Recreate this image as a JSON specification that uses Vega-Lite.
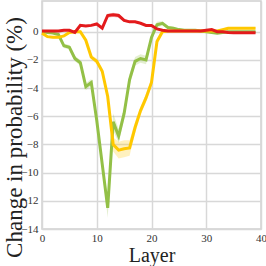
{
  "$schema": "https://vega.github.io/schema/vega-lite/v6.json",
  "width": 219,
  "height": 228,
  "autosize": "none",
  "padding": {"left": 42, "top": 1, "right": 5, "bottom": 37},
  "background": "white",
  "config": {
    "font": "Liberation Serif",
    "view": {"stroke": "#d0d0d0", "strokeWidth": 1.5},
    "axis": {
      "labelFont": "Liberation Serif",
      "titleFont": "Liberation Serif",
      "labelFontSize": 11,
      "labelColor": "#333",
      "titleColor": "#222",
      "titleFontWeight": "normal",
      "gridColor": "#d8d8d8",
      "gridWidth": 1.5,
      "domain": false,
      "ticks": false,
      "labelOverlap": false,
      "tickCount": 20
    }
  },
  "data": {
    "values": [
      {"layer":0,"s":"g","v":0,"lo":-0.05,"hi":0.05},
      {"layer":1,"s":"g","v":-0.05,"lo":-0.1,"hi":0},
      {"layer":2,"s":"g","v":-0.1,"lo":-0.18,"hi":-0.02},
      {"layer":3,"s":"g","v":-0.2,"lo":-0.3,"hi":-0.1},
      {"layer":4,"s":"g","v":-1.0,"lo":-1.15,"hi":-0.85},
      {"layer":5,"s":"g","v":-1.1,"lo":-1.25,"hi":-0.95},
      {"layer":6,"s":"g","v":-1.9,"lo":-2.1,"hi":-1.7},
      {"layer":7,"s":"g","v":-2.2,"lo":-2.4,"hi":-2.0},
      {"layer":8,"s":"g","v":-3.9,"lo":-4.15,"hi":-3.65},
      {"layer":9,"s":"g","v":-3.6,"lo":-3.85,"hi":-3.35},
      {"layer":10,"s":"g","v":-6.3,"lo":-6.6,"hi":-6.0},
      {"layer":11,"s":"g","v":-9.4,"lo":-9.8,"hi":-9.0},
      {"layer":12,"s":"g","v":-12.5,"lo":-13.2,"hi":-11.8},
      {"layer":13,"s":"g","v":-6.4,"lo":-7.0,"hi":-5.8},
      {"layer":14,"s":"g","v":-7.4,"lo":-7.9,"hi":-6.9},
      {"layer":15,"s":"g","v":-5.8,"lo":-6.2,"hi":-5.4},
      {"layer":16,"s":"g","v":-3.4,"lo":-3.8,"hi":-3.0},
      {"layer":17,"s":"g","v":-2.1,"lo":-2.4,"hi":-1.8},
      {"layer":18,"s":"g","v":-1.9,"lo":-2.2,"hi":-1.6},
      {"layer":19,"s":"g","v":-2.0,"lo":-2.3,"hi":-1.7},
      {"layer":20,"s":"g","v":-0.4,"lo":-0.6,"hi":-0.2},
      {"layer":21,"s":"g","v":0.5,"lo":0.3,"hi":0.7},
      {"layer":22,"s":"g","v":0.6,"lo":0.45,"hi":0.75},
      {"layer":23,"s":"g","v":0.3,"lo":0.2,"hi":0.4},
      {"layer":24,"s":"g","v":0.25,"lo":0.15,"hi":0.35},
      {"layer":25,"s":"g","v":0.15,"lo":0.07,"hi":0.23},
      {"layer":26,"s":"g","v":0.1,"lo":0.03,"hi":0.17},
      {"layer":27,"s":"g","v":0.1,"lo":0.03,"hi":0.17},
      {"layer":28,"s":"g","v":0.1,"lo":0.03,"hi":0.17},
      {"layer":29,"s":"g","v":0.05,"lo":-0.02,"hi":0.12},
      {"layer":30,"s":"g","v":0.0,"lo":-0.07,"hi":0.07},
      {"layer":31,"s":"g","v":-0.05,"lo":-0.12,"hi":0.02},
      {"layer":32,"s":"g","v":-0.1,"lo":-0.17,"hi":-0.03},
      {"layer":33,"s":"g","v":-0.05,"lo":-0.12,"hi":0.02},
      {"layer":34,"s":"g","v":0.0,"lo":-0.07,"hi":0.07},
      {"layer":35,"s":"g","v":0.0,"lo":-0.07,"hi":0.07},
      {"layer":36,"s":"g","v":0.0,"lo":-0.07,"hi":0.07},
      {"layer":37,"s":"g","v":0.0,"lo":-0.07,"hi":0.07},
      {"layer":38,"s":"g","v":0.0,"lo":-0.07,"hi":0.07},
      {"layer":39,"s":"g","v":0.0,"lo":-0.07,"hi":0.07},

      {"layer":0,"s":"y","v":-0.1,"lo":-0.18,"hi":-0.02},
      {"layer":1,"s":"y","v":-0.35,"lo":-0.43,"hi":-0.27},
      {"layer":2,"s":"y","v":-0.4,"lo":-0.48,"hi":-0.32},
      {"layer":3,"s":"y","v":-0.4,"lo":-0.48,"hi":-0.32},
      {"layer":4,"s":"y","v":-0.3,"lo":-0.38,"hi":-0.22},
      {"layer":5,"s":"y","v":-0.05,"lo":-0.13,"hi":0.03},
      {"layer":6,"s":"y","v":0.0,"lo":-0.08,"hi":0.08},
      {"layer":7,"s":"y","v":0.0,"lo":-0.08,"hi":0.08},
      {"layer":8,"s":"y","v":-0.6,"lo":-0.75,"hi":-0.45},
      {"layer":9,"s":"y","v":-1.8,"lo":-1.95,"hi":-1.65},
      {"layer":10,"s":"y","v":-2.1,"lo":-2.3,"hi":-1.9},
      {"layer":11,"s":"y","v":-2.8,"lo":-3.0,"hi":-2.6},
      {"layer":12,"s":"y","v":-4.6,"lo":-4.9,"hi":-4.3},
      {"layer":13,"s":"y","v":-8.0,"lo":-8.5,"hi":-7.5},
      {"layer":14,"s":"y","v":-8.4,"lo":-9.0,"hi":-7.8},
      {"layer":15,"s":"y","v":-8.3,"lo":-8.9,"hi":-7.7},
      {"layer":16,"s":"y","v":-8.25,"lo":-8.8,"hi":-7.7},
      {"layer":17,"s":"y","v":-6.8,"lo":-7.2,"hi":-6.4},
      {"layer":18,"s":"y","v":-5.6,"lo":-5.9,"hi":-5.3},
      {"layer":19,"s":"y","v":-4.7,"lo":-5.0,"hi":-4.4},
      {"layer":20,"s":"y","v":-3.6,"lo":-3.9,"hi":-3.3},
      {"layer":21,"s":"y","v":-0.7,"lo":-0.9,"hi":-0.5},
      {"layer":22,"s":"y","v":0.0,"lo":-0.08,"hi":0.08},
      {"layer":23,"s":"y","v":0.05,"lo":-0.03,"hi":0.13},
      {"layer":24,"s":"y","v":0.05,"lo":-0.03,"hi":0.13},
      {"layer":25,"s":"y","v":0.05,"lo":-0.03,"hi":0.13},
      {"layer":26,"s":"y","v":0.05,"lo":-0.03,"hi":0.13},
      {"layer":27,"s":"y","v":0.05,"lo":-0.03,"hi":0.13},
      {"layer":28,"s":"y","v":0.05,"lo":-0.03,"hi":0.13},
      {"layer":29,"s":"y","v":0.05,"lo":-0.03,"hi":0.13},
      {"layer":30,"s":"y","v":0.05,"lo":-0.03,"hi":0.13},
      {"layer":31,"s":"y","v":0.05,"lo":-0.03,"hi":0.13},
      {"layer":32,"s":"y","v":0.05,"lo":-0.03,"hi":0.13},
      {"layer":33,"s":"y","v":0.15,"lo":0.07,"hi":0.23},
      {"layer":34,"s":"y","v":0.25,"lo":0.17,"hi":0.33},
      {"layer":35,"s":"y","v":0.25,"lo":0.17,"hi":0.33},
      {"layer":36,"s":"y","v":0.25,"lo":0.17,"hi":0.33},
      {"layer":37,"s":"y","v":0.25,"lo":0.17,"hi":0.33},
      {"layer":38,"s":"y","v":0.25,"lo":0.17,"hi":0.33},
      {"layer":39,"s":"y","v":0.25,"lo":0.17,"hi":0.33},

      {"layer":0,"s":"r","v":0.05,"lo":0.0,"hi":0.1},
      {"layer":1,"s":"r","v":0.05,"lo":0.0,"hi":0.1},
      {"layer":2,"s":"r","v":0.05,"lo":0.0,"hi":0.1},
      {"layer":3,"s":"r","v":0.05,"lo":0.0,"hi":0.1},
      {"layer":4,"s":"r","v":0.1,"lo":0.05,"hi":0.15},
      {"layer":5,"s":"r","v":0.1,"lo":0.05,"hi":0.15},
      {"layer":6,"s":"r","v":-0.05,"lo":-0.1,"hi":0.0},
      {"layer":7,"s":"r","v":0.45,"lo":0.38,"hi":0.52},
      {"layer":8,"s":"r","v":0.4,"lo":0.33,"hi":0.47},
      {"layer":9,"s":"r","v":0.45,"lo":0.38,"hi":0.52},
      {"layer":10,"s":"r","v":0.55,"lo":0.48,"hi":0.62},
      {"layer":11,"s":"r","v":0.25,"lo":0.18,"hi":0.32},
      {"layer":12,"s":"r","v":1.15,"lo":1.0,"hi":1.3},
      {"layer":13,"s":"r","v":1.2,"lo":1.05,"hi":1.35},
      {"layer":14,"s":"r","v":1.15,"lo":1.0,"hi":1.3},
      {"layer":15,"s":"r","v":0.8,"lo":0.7,"hi":0.9},
      {"layer":16,"s":"r","v":0.7,"lo":0.62,"hi":0.78},
      {"layer":17,"s":"r","v":0.7,"lo":0.62,"hi":0.78},
      {"layer":18,"s":"r","v":0.6,"lo":0.53,"hi":0.67},
      {"layer":19,"s":"r","v":0.45,"lo":0.38,"hi":0.52},
      {"layer":20,"s":"r","v":0.45,"lo":0.38,"hi":0.52},
      {"layer":21,"s":"r","v":0.2,"lo":0.14,"hi":0.26},
      {"layer":22,"s":"r","v":0.1,"lo":0.05,"hi":0.15},
      {"layer":23,"s":"r","v":0.05,"lo":0.0,"hi":0.1},
      {"layer":24,"s":"r","v":0.05,"lo":0.0,"hi":0.1},
      {"layer":25,"s":"r","v":0.05,"lo":0.0,"hi":0.1},
      {"layer":26,"s":"r","v":0.05,"lo":0.0,"hi":0.1},
      {"layer":27,"s":"r","v":0.05,"lo":0.0,"hi":0.1},
      {"layer":28,"s":"r","v":0.05,"lo":0.0,"hi":0.1},
      {"layer":29,"s":"r","v":0.05,"lo":0.0,"hi":0.1},
      {"layer":30,"s":"r","v":0.1,"lo":0.05,"hi":0.15},
      {"layer":31,"s":"r","v":0.15,"lo":0.1,"hi":0.2},
      {"layer":32,"s":"r","v":0.0,"lo":-0.05,"hi":0.05},
      {"layer":33,"s":"r","v":0.0,"lo":-0.05,"hi":0.05},
      {"layer":34,"s":"r","v":-0.05,"lo":-0.1,"hi":0.0},
      {"layer":35,"s":"r","v":-0.07,"lo":-0.12,"hi":-0.02},
      {"layer":36,"s":"r","v":-0.07,"lo":-0.12,"hi":-0.02},
      {"layer":37,"s":"r","v":-0.07,"lo":-0.12,"hi":-0.02},
      {"layer":38,"s":"r","v":-0.07,"lo":-0.12,"hi":-0.02},
      {"layer":39,"s":"r","v":-0.07,"lo":-0.12,"hi":-0.02}
    ]
  },
  "encoding": {
    "x": {
      "field": "layer", "type": "quantitative",
      "scale": {"domain": [0, 40], "nice": false, "zero": false},
      "axis": {"values": [0, 10, 20, 30, 40], "tickCount": 20, "title": "Layer", "titleFontSize": 20, "titlePadding": 2, "labelPadding": 3, "labelOverlap": false, "labelFlush": false}
    },
    "color": {
      "field": "s", "type": "nominal", "legend": null,
      "scale": {"domain": ["g", "y", "r"], "range": ["#93c047", "#ffc800", "#e31a1c"]}
    }
  },
  "layer": [
    {
      "mark": {"type": "area", "opacity": 0.25},
      "encoding": {
        "y": {
          "field": "lo", "type": "quantitative",
          "scale": {"domain": [-14, 2.18], "nice": false, "zero": false},
          "axis": {"values": [-14, -12, -10, -8, -6, -4, -2, 0], "tickCount": 20, "labelOverlap": false, "labelFlush": false, "labelBound": false, "title": "Change in probability (%)", "titleFontSize": 23, "titleX": -28, "titleY": 136, "titleAngle": 270, "titleAlign": "center", "titleBaseline": "middle", "labelPadding": 4}
        },
        "y2": {"field": "hi"}
      }
    },
    {
      "mark": {"type": "line", "strokeWidth": 3},
      "encoding": {
        "y": {"field": "v", "type": "quantitative"}
      }
    }
  ]
}
